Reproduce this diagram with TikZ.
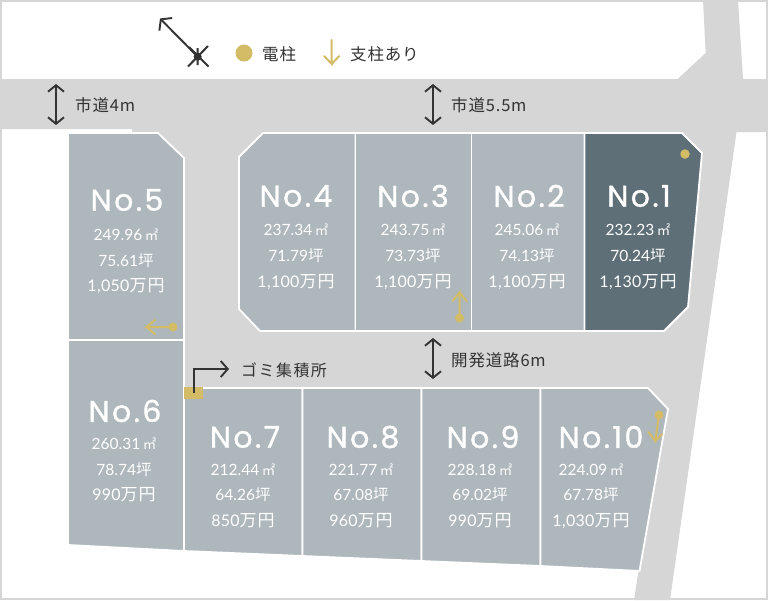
\documentclass[tikz,border=0pt]{standalone}
\usepackage{fontspec}
\usetikzlibrary{arrows.meta}
\setmainfont{Noto Sans CJK JP}
\newfontfamily\jpf[LetterSpace=5]{Noto Sans CJK JP}
\newfontfamily\gomif[LetterSpace=9]{Noto Sans CJK JP}
\newfontfamily\titlef[LetterSpace=8,FakeBold=1.1]{Poppins}
\newfontfamily\dataf{Lato}
\newfontfamily\dataj[LetterSpace=6]{Noto Sans CJK JP}
\definecolor{roadc}{HTML}{D6D6D6}
\definecolor{lotc}{HTML}{AEB7BB}
\definecolor{lotd}{HTML}{5E6F78}
\definecolor{gold}{HTML}{D3BC65}
\definecolor{ink}{HTML}{333333}
\tikzset{
  lot/.style={fill=lotc,draw=white,line width=1.8pt,line join=miter},
  lotdark/.style={fill=lotd,draw=white,line width=1.8pt},
  ttl/.style={text=white,font=\titlef\fontsize{30}{30}\selectfont,inner sep=0pt,anchor=center},
  dat/.style={text=white,font=\dataf\fontsize{15.5}{15.5}\selectfont,inner sep=0pt,anchor=center},
  lab/.style={text=ink,font=\jpf\fontsize{16.5}{16.5}\selectfont,inner sep=0pt,anchor=west},
  dim/.style={draw=ink,line width=1.9pt,{Straight Barb[length=6.5pt,width=16pt]}-{Straight Barb[length=6.5pt,width=16pt]}},
  goldline/.style={draw=gold,line width=2pt,line cap=round,line join=miter},
  dotg/.style={circle,fill=gold,inner sep=0pt,minimum size=#1},
}
\newcommand{\lotdata}[6]{%
  \node[dat] at (#1,#2) {#5\,{\dataj\fontsize{13.5}{13.5}\selectfont ㎡}};
  \node[dat] at (#1,#3) {#6{\dataj\fontsize{15.5}{15.5}\selectfont 坪}};
  \node[dat] at (#1,#4) {\dataf\fontsize{16}{16}\selectfont\addfontfeature{LetterSpace=2}\lotpr{\dataj\fontsize{17}{17}\selectfont 万円}};
}
\newcommand{\lotpr}{}
\begin{document}
\begin{tikzpicture}[x=1pt,y=-1pt]
\useasboundingbox (0,0) rectangle (768,600);
\fill[white] (0,0) rectangle (768,600);
% roads
\fill[roadc] (0,79) -- (677.7,79) -- (705.7,53) -- (703,0) -- (738,0) -- (743,79) -- (768,79) -- (768,132) -- (736.5,132) -- (670,600) -- (634,600) -- (638.5,571) -- (184,545) -- (184,158) -- (158,132) -- (132,132) -- (132,129) -- (0,129) -- cycle;
\draw[roadc,line width=2pt] (1,1) rectangle (767,599);
% lots
\draw[lot] (68,133) -- (158,133) -- (184,158) -- (184,340) -- (68,340) -- cycle;
\draw[lot] (68,340) -- (184,340) -- (184,551) -- (68,545) -- cycle;
\draw[lot] (263,133) -- (355.5,133) -- (355.5,331) -- (260,331) -- (239,309) -- (239,157) -- cycle;
\draw[lot] (355.5,133) rectangle (471.5,331);
\draw[lot] (471.5,133) rectangle (584.5,331);
\draw[lotdark] (584.5,133) -- (682,133) -- (702,153) -- (688,307) -- (664,331) -- (584.5,331) -- cycle;
\draw[lot] (184,388) -- (302.5,388) -- (302.5,556) -- (184,551) -- cycle;
\draw[lot] (302.5,388) -- (421.5,388) -- (421.5,561) -- (302.5,556) -- cycle;
\draw[lot] (421.5,388) -- (540.5,388) -- (540.5,566) -- (421.5,561) -- cycle;
\draw[lot] (540.5,388) -- (648,388) -- (668,409) -- (639.5,571) -- (540.5,566) -- cycle;
% titles
\node[ttl] (t5) at (127,200) {No.5};
\node[ttl] (t4) at (296,196) {No.4};
\node[ttl] (t3) at (413,196) {No.3};
\node[ttl] (t2) at (529,196) {No.2};
\node[ttl] (t1) at (639,196) {No.1};
\node[ttl] (t6) at (125,411) {No.6};
\node[ttl] (t7) at (245,437) {No.7};
\node[ttl] (t8) at (363,437) {No.8};
\node[ttl] (t9) at (483,437) {No.9};
\node[ttl] (t10) at (601,437) {No.10};
% data
\renewcommand{\lotpr}{1,050}\lotdata{126}{235}{261}{286}{249.96}{75.61}
\renewcommand{\lotpr}{1,100}\lotdata{296}{230}{256}{282}{237.34}{71.79}
\renewcommand{\lotpr}{1,100}\lotdata{413}{230}{256}{282}{243.75}{73.73}
\renewcommand{\lotpr}{1,100}\lotdata{527}{230}{256}{282}{245.06}{74.13}
\renewcommand{\lotpr}{1,130}\lotdata{638}{230}{256}{282}{232.23}{70.24}
\renewcommand{\lotpr}{990}\lotdata{124}{444}{470}{495}{260.31}{78.74}
\renewcommand{\lotpr}{850}\lotdata{243}{470}{495}{521}{212.44}{64.26}
\renewcommand{\lotpr}{960}\lotdata{361}{470}{495}{521}{221.77}{67.08}
\renewcommand{\lotpr}{990}\lotdata{480}{470}{495}{521}{228.18}{69.02}
\renewcommand{\lotpr}{1,030}\lotdata{591}{470}{495}{521}{224.09}{67.78}
% road labels
\coordinate (a1) at (56,84); \coordinate (a2) at (56,125);
\draw[dim] (a1) -- (a2);
\node[lab] (r1) at (75,105) {市道4m};
\coordinate (b1) at (433,84); \coordinate (b2) at (433,125);
\draw[dim] (b1) -- (b2);
\node[lab] (r2) at (451,105) {市道5.5m};
\coordinate (c1) at (433,338); \coordinate (c2) at (433,379);
\draw[dim] (c1) -- (c2);
\node[lab] (r3) at (451,360) {開発道路6m};
% garbage
\node[fill=gold,minimum width=19pt,minimum height=12.5pt,inner sep=0pt] (gomi) at (193.5,393) {};
\coordinate (g1) at (194,393); \coordinate (g2) at (229,369);
\draw[draw=ink,line width=1.9pt,-{Straight Barb[length=7pt,width=16pt]}] (g1) |- (g2);
\node[lab,font=\gomif\fontsize{16}{16}\selectfont] (gl) at (241,370) {ゴミ集積所};
% compass
\coordinate (n0) at (197.7,56.7);
\coordinate (n1) at (160,18.5);
\draw[ink,line width=1.9pt,-{Straight Barb[length=7pt,width=18pt]}] (n0) -- (n1);
\draw[ink,line width=2pt] (188,66.5) -- (208,46) (189,47) -- (208.5,66.5) (197.7,48) -- (197.7,65);
\node[circle,fill=ink,inner sep=0pt,minimum size=8pt] (nc) at (n0) {};
% legend
\node[dotg=17pt] (ld) at (244,53) {};
\node[lab,font=\jpf\fontsize{16.5}{16.5}\selectfont] at (262,54.5) {電柱};
\coordinate (l1) at (331.7,40); \coordinate (l2) at (331.7,64);
\draw[goldline] (l1) -- (l2) -- ++(-7.5,-8) (l2) -- ++(7.5,-8);
\node[lab,font=\jpf\fontsize{16.5}{16.5}\selectfont] at (350,54.5) {支柱あり};
% poles
\node[dotg=9.5pt] (p1) at (685,154) {};
\node[dotg=9pt] (p5) at (173,327) {};
\coordinate (p5a) at (146.5,327);
\draw[goldline] (p5.center) -- (p5a) -- ++(8.5,-7) (p5a) -- ++(8.5,7);
\node[dotg=9pt] (p3) at (459.5,318) {};
\coordinate (p3a) at (459.5,292.5);
\draw[goldline] (p3.center) -- (p3a) -- ++(-7,8.5) (p3a) -- ++(7,8.5);
\node[dotg=9pt] (p10) at (659,415) {};
\coordinate (p10a) at (655.3,441);
\draw[goldline] (p10.center) -- (p10a) -- ++(-7,-9) (p10a) -- ++(7,-7);
\end{tikzpicture}
\end{document}
